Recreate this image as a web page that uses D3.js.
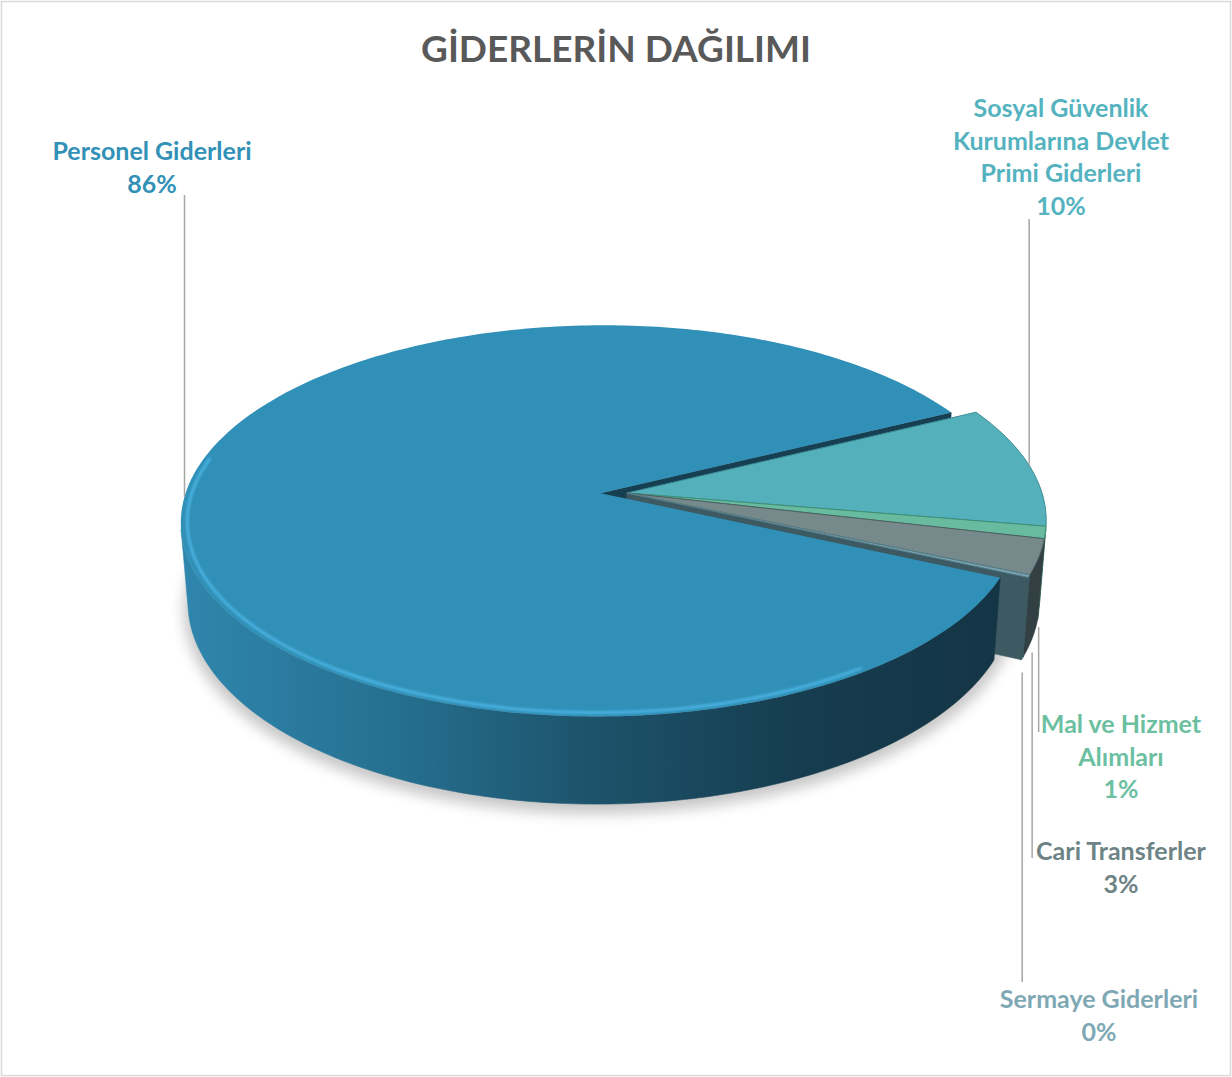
<!DOCTYPE html>
<html>
<head>
<meta charset="utf-8">
<script src="https://cdn.jsdelivr.net/npm/d3@7"></script>
<style>
  body { margin: 0; background: #fff; }
  text { font-family: Lato, "Open Sans", sans-serif; font-weight: 700; }
</style>
</head>
<body>
<svg id="chart" width="1232" height="1077"></svg>
<script>
// data
const categories = ["Personel Giderleri", "Sosyal Güvenlik Kurumlarına Devlet Primi Giderleri", "Mal ve Hizmet Alımları", "Cari Transferler", "Sermaye Giderleri"];
const values = [85.8, 10.1, 1.0, 2.9, 0.2];
const labelLines = [
  ["Personel Giderleri"],
  ["Sosyal Güvenlik", "Kurumlarına Devlet", "Primi Giderleri"],
  ["Mal ve Hizmet", "Alımları"],
  ["Cari Transferler"],
  ["Sermaye Giderleri"]
];
const title = "GİDERLERİN DAĞILIMI";

const CONFIG = {
  topColors: ["#3190b7", "#54b1bb", "#69bb9f", "#778a8b", "#7aa5b3"],
  sideColors: ["url(#sideGrad)", "#2f6a70", "#3b6e5e", "#323f43", "#3d5a63"],
  wallColors: ["#173f52", "#2f6a70", "#3b6e5e", "#34454a", "#3d5a63"],
  edgeColors: [null, "#3c8c95", "#3f8f74", "#4d5f62", "#557e8a"],
  labelColors: ["#3291b6", "#54b3bf", "#6cbfa0", "#6d8385", "#7fa8b5"],
  labelPos: [[152, 160], [1061, 117], [1121, 733], [1121, 860], [1099, 1008]],
  leaderEnd: [195, 219, 732, 858, 982],
  leaderDrop: [0, 0, 14, 14, 14],
  lineHeight: 32.5,
  explode: [0.0635, 0, 0, 0, 0],
  startAngle: 114.5 * Math.PI / 180,
  cx: 627, cy: 493
};

const svg = d3.select("#chart");
const W = 1232, H = 1077;

// simple perspective camera
const R = 1, Dist = 6.28, phi = 27.5 * Math.PI / 180, depthH = 0.218;
const f = 415 * Dist;
const sinP = Math.sin(phi), cosP = Math.cos(phi);

function project(p) {
  const [x, pz, h] = p;
  const depth = Dist - pz * cosP - h * sinP;
  const Y = pz * sinP - h * cosP;
  return [CONFIG.cx + f * x / depth, CONFIG.cy + f * Y / depth];
}
function camDist(p) {
  const cam = [0, Dist * cosP, Dist * sinP];
  return Math.hypot(p[0] - cam[0], p[1] - cam[1], p[2] - cam[2]);
}
function visible(n, p) {
  const cam = [0, Dist * cosP, Dist * sinP];
  return n[0] * (cam[0] - p[0]) + n[1] * (cam[1] - p[1]) + n[2] * (cam[2] - p[2]) > 0;
}

const line = d3.line();
const pie = d3.pie().sort(null).startAngle(CONFIG.startAngle).endAngle(CONFIG.startAngle + 2 * Math.PI);
const arcs = pie(values);

// slices in world space
const slices = arcs.map((d, i) => {
  const a0 = d.startAngle - Math.PI / 2, a1 = d.endAngle - Math.PI / 2;
  const mid = (a0 + a1) / 2;
  const ox = CONFIG.explode[i] * Math.cos(mid), oz = CONFIG.explode[i] * Math.sin(mid);
  const rim = (a, h, r = R) => [ox + r * Math.cos(a), oz + r * Math.sin(a), h];
  return { i, a0, a1, mid, ox, oz, rim, value: d.value };
});

const defs = svg.append("defs");
const grad = defs.append("linearGradient").attr("id", "sideGrad")
  .attr("gradientUnits", "userSpaceOnUse").attr("x1", 180).attr("x2", 1000).attr("y1", 0).attr("y2", 0);
[[0, "#2f86ad"], [0.25, "#267192"], [0.5, "#1d536b"], [0.75, "#163d50"], [1, "#143545"]]
  .forEach(s => grad.append("stop").attr("offset", s[0]).attr("stop-color", s[1]));
defs.append("filter").attr("id", "shadowBlur").attr("x", "-20%").attr("y", "-20%").attr("width", "140%").attr("height", "140%")
  .append("feGaussianBlur").attr("stdDeviation", 7);
defs.append("filter").attr("id", "softBlur")
  .append("feGaussianBlur").attr("stdDeviation", 1.2);

// chart border
svg.append("rect")
  .attr("x", 1.5).attr("y", 1.5).attr("width", W - 3).attr("height", H - 3)
  .attr("fill", "#fff").attr("stroke", "#d9d9d9").attr("stroke-width", 1.5);

// title
svg.append("text")
  .attr("x", 616).attr("y", 62)
  .attr("text-anchor", "middle")
  .attr("font-size", 37)
  .attr("fill", "#595959")
  .text(title);

// shadow under the pie
const steps = d3.range(0, 361, 2).map(t => t * Math.PI / 180);
const shadowPts = steps.map(a => project(slices[0].rim(a, -depthH, 1.01)));
svg.append("path")
  .attr("d", line(shadowPts) + "Z")
  .attr("transform", "translate(0,7)")
  .attr("fill", "#000")
  .attr("opacity", 0.22)
  .attr("filter", "url(#shadowBlur)");

// side + wall faces
let faces = [];
slices.forEach(s => {
  // outer side, split in visible runs
  const n = Math.max(2, Math.ceil((s.a1 - s.a0) / (Math.PI / 180)));
  const angs = d3.range(n + 1).map(k => s.a0 + (s.a1 - s.a0) * k / n);
  let run = [];
  const flush = () => {
    if (run.length > 1) {
      const top = run.map(a => s.rim(a, 0));
      const bot = run.map(a => s.rim(a, -depthH)).reverse();
      const pts = top.concat(bot);
      const c = d3.mean(run.map(a => camDist(s.rim(a, -depthH / 2))));
      faces.push({ pts, fill: CONFIG.sideColors[s.i], dist: c, kind: "side" });
    }
    run = [];
  };
  for (let k = 0; k < n; k++) {
    const am = (angs[k] + angs[k + 1]) / 2;
    const nrm = [Math.cos(am), Math.sin(am), 0];
    if (visible(nrm, s.rim(am, -depthH / 2))) {
      if (run.length === 0) run.push(angs[k]);
      run.push(angs[k + 1]);
    } else flush();
  }
  flush();

  // radial walls
  const centre = (h) => [s.ox, s.oz, h];
  [[s.a0, [Math.sin(s.a0), -Math.cos(s.a0), 0]], [s.a1, [-Math.sin(s.a1), Math.cos(s.a1), 0]]].forEach(([a, nrm]) => {
    const midP = s.rim(a, -depthH / 2, R / 2);
    if (visible(nrm, midP)) {
      const pts = [centre(0), s.rim(a, 0), s.rim(a, -depthH), centre(-depthH)];
      faces.push({ pts, fill: CONFIG.wallColors[s.i], dist: camDist(midP), kind: "wall" });
    }
  });
});
faces.sort((a, b) => b.dist - a.dist);

svg.append("g").attr("id", "sides")
  .selectAll("path")
  .data(faces)
  .join("path")
  .attr("d", d => line(d.pts.map(project)) + "Z")
  .attr("fill", d => d.fill)
  .attr("stroke", d => d.fill)
  .attr("stroke-width", 0.6)
  .attr("stroke-linejoin", "round");

// top faces
const tops = svg.append("g").attr("id", "tops");
slices.forEach(s => {
  const n = Math.max(2, Math.ceil((s.a1 - s.a0) / (Math.PI / 180)));
  const pts = [[s.ox, s.oz, 0]].concat(d3.range(n + 1).map(k => s.rim(s.a0 + (s.a1 - s.a0) * k / n, 0)));
  tops.append("path")
    .attr("d", line(pts.map(project)) + "Z")
    .attr("fill", CONFIG.topColors[s.i])
    .attr("stroke", CONFIG.edgeColors[s.i] || "none")
    .attr("stroke-width", 1)
    .attr("stroke-linejoin", "round");
});

// bevel highlight on the front rim of the big slice
const hl = d3.range(55, 192, 2).map(t => project(slices[0].rim(t * Math.PI / 180, 0, 0.985)));
svg.append("path")
  .attr("d", line(hl))
  .attr("fill", "none")
  .attr("stroke", "#4fb9ea")
  .attr("stroke-width", 3)
  .attr("opacity", 0.8)
  .attr("filter", "url(#softBlur)");

// leader lines
const leaders = svg.append("g").attr("id", "leaders");
slices.forEach(s => {
  const onTop = s.i < 2;
  const [x0, y0] = project(s.rim(s.mid, onTop ? 0 : -depthH));
  leaders.append("line")
    .attr("x1", x0).attr("y1", y0 + CONFIG.leaderDrop[s.i])
    .attr("x2", x0).attr("y2", CONFIG.leaderEnd[s.i])
    .attr("stroke", "#a6a6a6")
    .attr("stroke-width", 1.5);
});

// labels
const total = d3.sum(values);
const labels = svg.append("g").attr("id", "labels");
slices.forEach(s => {
  const [lx, ly] = CONFIG.labelPos[s.i];
  const t = labels.append("text")
    .attr("x", lx).attr("y", ly)
    .attr("text-anchor", "middle")
    .attr("font-size", 25)
    .attr("fill", CONFIG.labelColors[s.i]);
  labelLines[s.i].concat([Math.round(s.value / total * 100) + "%"]).forEach((l, k) => {
    t.append("tspan").attr("x", lx).attr("y", ly + k * CONFIG.lineHeight).text(l);
  });
});
</script>
</body>
</html>
